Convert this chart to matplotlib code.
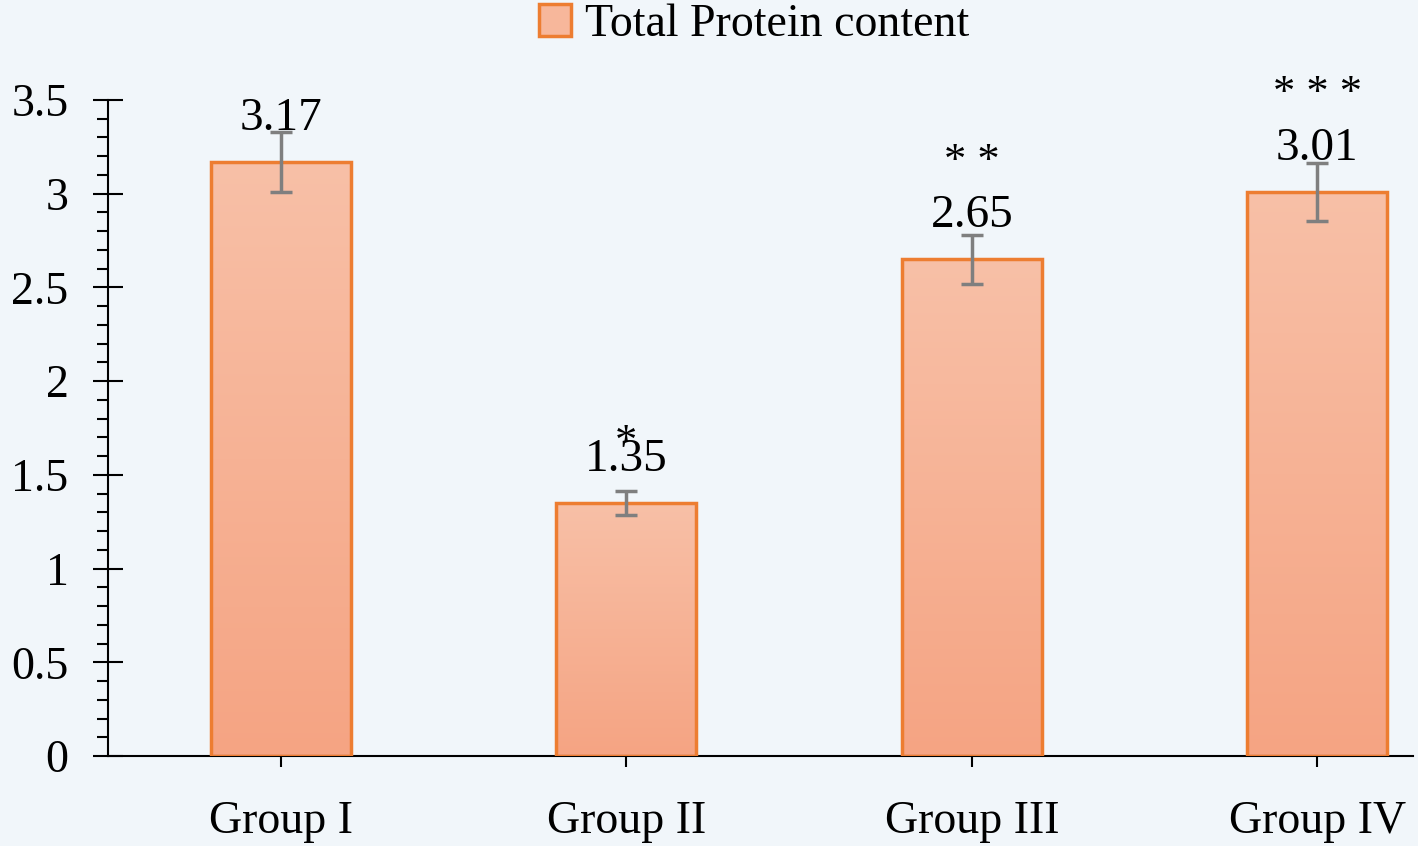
import numpy as np
import matplotlib
matplotlib.use("Agg")
import matplotlib.pyplot as plt
from matplotlib.patches import Patch
from matplotlib.colors import LinearSegmentedColormap
from matplotlib.ticker import MultipleLocator, FormatStrFormatter

# data
groups = ['Group I', 'Group II', 'Group III', 'Group IV']
protein = [3.17, 1.35, 2.65, 3.01]
errors = [0.16, 0.065, 0.13, 0.155]
stars = ['', '*', '* *', '* * *']
star_offset = [0, 0.09, 0.29, 0.29]

bg = '#F1F6FA'
edge = '#ED7D31'
plt.rcParams['font.family'] = ['Liberation Serif', 'DejaVu Serif']

fig = plt.figure(figsize=(14.18, 8.46), dpi=100, facecolor=bg)
ax = fig.add_axes([108 / 1418, 1 - 756 / 846, (1413 - 108) / 1418, (756 - 100) / 846])
ax.set_facecolor(bg)

x = np.arange(len(groups))
bars = ax.bar(x, protein, width=0.405, facecolor='none', edgecolor=edge,
              linewidth=2.5, zorder=3)

# vertical gradient fill inside each bar
grad = LinearSegmentedColormap.from_list('g', ['#F5A483', '#F8C0A7'])
for b in bars:
    im = ax.imshow(np.linspace(0, 1, 256).reshape(-1, 1), cmap=grad, origin='lower',
                   extent=[b.get_x(), b.get_x() + b.get_width(), 0, b.get_height()],
                   aspect='auto', zorder=2)
    im.set_clip_path(b)

ax.errorbar(x, protein, yerr=errors, fmt='none', ecolor='#7F7F7F',
            elinewidth=2.5, capsize=8, capthick=2.5, zorder=4)

for xi, v, s, so in zip(x, protein, stars, star_offset):
    ax.text(xi, v + 0.23, f'{v:.2f}', ha='center', va='center', fontsize=34, zorder=5)
    if s:
        ax.text(xi, v + 0.23 + so, s, ha='center', va='center', fontsize=32, zorder=5)

ax.set_xlim(-0.5, 3.277)
ax.set_ylim(0, 3.5)
ax.set_xticks(x)
ax.set_xticklabels(groups)
ax.yaxis.set_major_locator(MultipleLocator(0.5))
ax.yaxis.set_minor_locator(MultipleLocator(0.1))
ax.yaxis.set_major_formatter(FormatStrFormatter('%g'))

for side in ['top', 'right']:
    ax.spines[side].set_visible(False)
for side in ['left', 'bottom']:
    ax.spines[side].set_linewidth(1.5)
ax.tick_params(axis='y', which='major', direction='inout', length=21, width=1.5,
               labelsize=33, pad=18)
ax.tick_params(axis='y', which='minor', direction='out', length=8, width=1.5)
ax.tick_params(axis='x', which='major', direction='inout', length=16, width=1.5,
               labelsize=33, pad=24)

handle = Patch(facecolor='#F7B79B', edgecolor=edge, linewidth=2.5)
fig.legend([handle], ['Total Protein content'], loc='upper center',
           bbox_to_anchor=(0.532, 1.045), frameon=False, fontsize=33,
           handlelength=0.7, handleheight=0.7, handletextpad=0.3)

fig.savefig('out.png', dpi=100, facecolor=bg)
